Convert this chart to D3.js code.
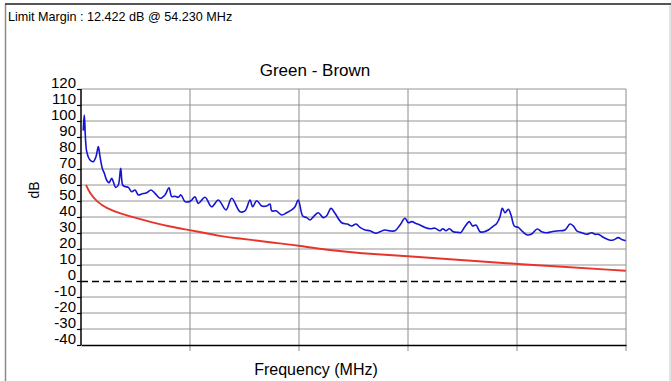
<!DOCTYPE html>
<html>
<head>
<meta charset="utf-8">
<script src="https://cdn.jsdelivr.net/npm/d3@7/dist/d3.min.js"></script>
<style>
  html, body { margin: 0; padding: 0; background: #fff; }
  svg { display: block; font-family: "Liberation Sans", Arial, sans-serif; }
</style>
</head>
<body>
<svg id="chart" width="671" height="381"></svg>
<script>
// Pair measurement (MHz, dB)
const measFreq = [1.05, 1.51, 2.61, 4.13, 5.64, 6.88, 7.94, 8.72, 9.77, 10.69, 11.79, 12.84, 14.08, 14.82, 15.92, 17.11, 18.21, 19.13, 20.18, 21.70,
  23.26, 24.77, 26.28, 27.84, 30.14, 32.11, 33.94, 36.24, 38.53, 40.37, 41.61, 43.12, 44.63, 45.87, 47.71, 49.68, 50.78, 52.29, 53.81, 56.88,
  59.95, 62.98, 66.51, 69.13, 72.94, 75.23, 77.52, 78.76, 80.60, 82.89, 85.18, 86.70, 87.48, 89.45, 92.06, 94.36, 96.65, 98.17, 99.68, 101.70,
  103.53, 105.05, 106.88, 108.85, 111.15, 112.71, 114.68, 116.51, 119.59, 122.16, 124.17, 126.15, 127.98, 130.28, 132.57, 135.32, 137.16, 139.45, 141.74, 144.04,
  146.33, 148.62, 150.14, 151.70, 153.67, 155.50, 157.80, 160.09, 162.39, 164.68, 165.92, 167.43, 168.94, 170.78, 173.07, 174.17, 176.15, 178.12, 179.68, 181.19,
  183.03, 184.54, 186.83, 188.85, 190.69, 192.20, 193.26, 194.50, 196.01, 197.25, 198.76, 200.60, 202.61, 204.72, 206.74, 209.31, 211.33, 213.62, 215.92, 218.21,
  222.02, 224.31, 225.83, 227.39, 229.68, 231.97, 234.27, 235.78, 237.29, 239.59, 242.34, 244.17, 246.47, 248.03, 249.86];
const measDb = [94, 103.7, 81, 75.6, 74.6, 77.7, 84, 77.7, 70.4, 67.3, 63, 61.4, 64.2, 62, 58.5, 60, 70.4, 60, 59, 58.5,
  55.8, 56.9, 53.8, 54.4, 55.2, 56.9, 54.8, 51.7, 53.8, 58.3, 52.7, 53, 52.3, 53.8, 49.6, 49.6, 50.6, 52.7, 48.5, 52.3,
  46.4, 50.6, 44.4, 51.7, 43.3, 43.8, 50.6, 46.4, 50.2, 46.9, 46.9, 48.1, 43.8, 43.9, 41.3, 42.7, 44.4, 46.4, 50.6, 40.6,
  39.6, 38.1, 40.6, 42.7, 39.6, 40.8, 45.4, 42.3, 36.4, 35.6, 34.4, 35.6, 33.5, 31.9, 31.4, 29.8, 30.8, 31.9, 31.3, 31.4,
  35, 39.2, 36.4, 37.1, 36, 35, 33.5, 32.7, 33, 31.4, 32.7, 31.4, 32.7, 30.8, 30.4, 30.2, 34, 37.1, 34.4, 35,
  30.8, 30.6, 31.9, 34, 36, 40.2, 45.4, 42.7, 44.8, 41.3, 34.4, 33.5, 30.8, 28.8, 29.4, 32.5, 30.8, 30.2, 30.8, 31.3,
  31.9, 35.6, 34.4, 31.4, 30.2, 29.2, 30.2, 29.2, 29.2, 27.3, 25.6, 25.6, 27.1, 26, 25.2];

// Limit line (MHz, dB)
const limitFreq = [2.3, 4.1, 7.2, 11.8, 17.9, 25.6, 33.2, 40.8, 49.5, 56.1, 63.8, 71.4, 79.0, 86.7, 99.7, 112.7, 128.0, 149.4, 173.9, 199.9, 249.9];
const limitDb = [60, 54.8, 49.6, 45.4, 42.3, 39.2, 36.4, 34, 31.9, 30.2, 28.1, 26.7, 25.6, 24.2, 22.1, 19.4, 17.3, 15.6, 13.1, 10.6, 6.4];

// Axis ticks
const yTicks = [-40, -30, -20, -10, 0, 10, 20, 30, 40, 50, 60, 70, 80, 90, 100, 110, 120];
const xTicks = [0, 50, 100, 150, 200, 250];

const titleText = "Green - Brown";
const marginText = "Limit Margin : 12.422 dB @ 54.230 MHz";
const xLabel = "Frequency (MHz)";
const yLabel = "dB";

const svg = d3.select("#chart");
const W = 671, H = 381;

const x = d3.scaleLinear().domain([0, 250]).range([81, 626]);
const y = d3.scaleLinear().domain([-40, 120]).range([345, 89]);

// outer frame
svg.append("line").attr("x1", 5.5).attr("x2", 5.5).attr("y1", 4).attr("y2", H).attr("stroke", "#8a8a8a").attr("stroke-width", 1.5);
svg.append("line").attr("x1", 670).attr("x2", 670).attr("y1", 4).attr("y2", H).attr("stroke", "#d0d0d0").attr("stroke-width", 1.2);
svg.append("line").attr("x1", 5).attr("x2", 671).attr("y1", 4).attr("y2", 4).attr("stroke", "#555").attr("stroke-width", 2);

// header text
svg.append("text").attr("x", 8).attr("y", 21).attr("font-size", 12.6).attr("fill", "#000").text(marginText);
svg.append("text").attr("x", 315).attr("y", 76).attr("text-anchor", "middle").attr("font-size", 17).attr("fill", "#000").text(titleText);

// horizontal grid
svg.append("g").selectAll("line")
  .data(yTicks.filter(v => v !== 0 && v !== -40))
  .join("line")
  .attr("x1", x(0)).attr("x2", x(250))
  .attr("y1", d => y(d)).attr("y2", d => y(d))
  .attr("stroke", "#b8b8b8").attr("stroke-width", 1.6);

// vertical grid with ticks below the axis
svg.append("g").selectAll("line")
  .data(xTicks.slice(1))
  .join("line")
  .attr("x1", d => x(d)).attr("x2", d => x(d))
  .attr("y1", y(120)).attr("y2", y(-40) + 6)
  .attr("stroke", "#8c8c8c").attr("stroke-width", 1);

// zero reference line
svg.append("line")
  .attr("x1", x(0)).attr("x2", x(250))
  .attr("y1", y(0) + 0.5).attr("y2", y(0) + 0.5)
  .attr("stroke", "#000").attr("stroke-width", 1.3)
  .attr("stroke-dasharray", "7,4");

// y axis
const yAxis = d3.axisLeft(y).tickValues(yTicks).tickSize(4).tickPadding(1).tickFormat(d => String(d));
const gy = svg.append("g").attr("transform", `translate(${x(0)},0)`).call(yAxis);
gy.select(".domain").attr("stroke", "#000").attr("stroke-width", 1.5).attr("d", `M0,${y(120)}V${y(-40)}`);
gy.selectAll(".tick line").attr("stroke", "#000").attr("stroke-width", 1.2);
gy.selectAll(".tick text")
  .attr("font-size", 15).attr("font-family", "Liberation Sans, Arial, sans-serif")
  .attr("fill", "#000").attr("dy", "-0.08em");

// x axis baseline
const xAxis = d3.axisBottom(x).tickValues([]).tickSizeOuter(0);
const gx = svg.append("g").attr("transform", `translate(0,${y(-40)})`).call(xAxis);
gx.select(".domain").attr("stroke", "#000").attr("stroke-width", 1.6);

// axis titles
svg.append("text").attr("x", 316).attr("y", 375).attr("text-anchor", "middle").attr("font-size", 16).attr("fill", "#000").text(xLabel);
svg.append("text").attr("transform", "translate(39,190) rotate(-90)").attr("text-anchor", "middle").attr("font-size", 14).attr("fill", "#000").text(yLabel);

// limit line
const limitPts = limitFreq.map((f, i) => [f, limitDb[i]]);
svg.append("path").datum(limitPts)
  .attr("fill", "none").attr("stroke", "#e8352b").attr("stroke-width", 1.9)
  .attr("d", d3.line().x(d => x(d[0])).y(d => y(d[1])).curve(d3.curveBasis));

// measurement trace
const measPts = measFreq.map((f, i) => [f, measDb[i]]);
svg.append("path").datum(measPts)
  .attr("fill", "none").attr("stroke", "#1414d2").attr("stroke-width", 1.6).attr("stroke-linejoin", "round")
  .attr("d", d3.line().x(d => x(d[0])).y(d => y(d[1])).curve(d3.curveCatmullRom.alpha(0.5)));
</script>
</body>
</html>
